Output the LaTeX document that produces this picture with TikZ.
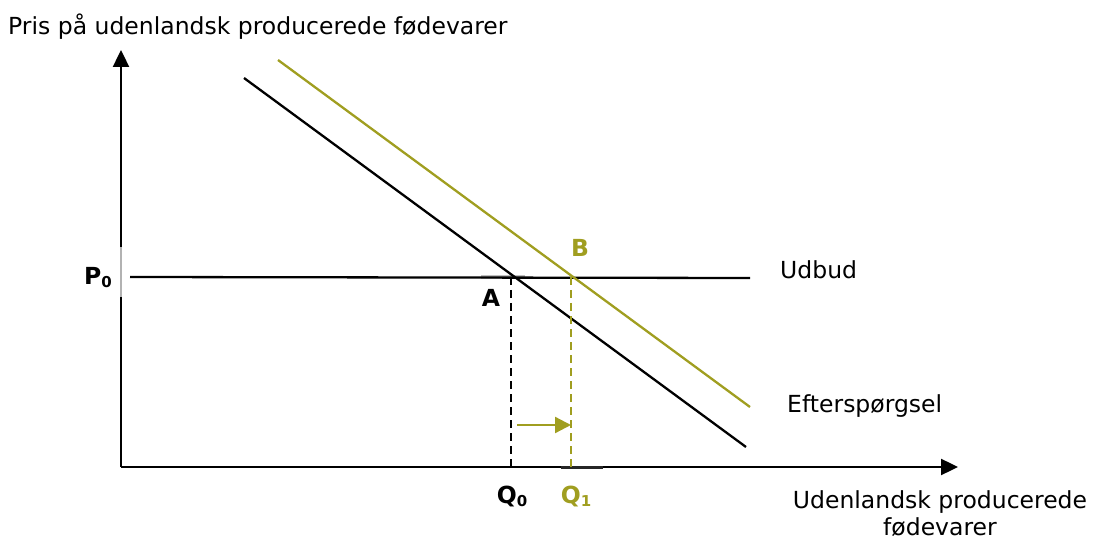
\documentclass[tikz,border=0pt]{standalone}
\usepackage{fontspec}
\setmainfont{DejaVu Sans}
\usetikzlibrary{arrows.meta}
\definecolor{oliv}{RGB}{160,158,32}
\newcommand{\subn}[1]{{\fontsize{15}{15}\selectfont\raisebox{-3pt}{#1}}}
\begin{document}
\begin{tikzpicture}[x=1pt,y=-1pt,
  axis/.style={line width=2.4pt,-{Triangle[length=17pt,width=16pt]}},
  curve/.style={line width=2.3pt},
  lbl/.style={font=\fontsize{23.5}{28}\selectfont,inner sep=0pt},
  blbl/.style={font=\fontsize{23.5}{28}\selectfont\bfseries,inner sep=0pt}]
\useasboundingbox (0,0) rectangle (1093,540);
% axes
\coordinate (O) at (121,467);
\coordinate (ytip) at (121,50);
\coordinate (xtip) at (958,467);
\draw[axis] (O) -- (ytip);
\draw[axis] (O) -- (xtip);
\coordinate (t1) at (121,247);
\coordinate (t2) at (121,297);
\draw[gray!60,line width=2.6pt] (t1) -- (t2);
\coordinate (u1) at (561,467);
\coordinate (u2) at (603,467);
\draw[black!85,line width=3pt] (u1) -- (u2);
% supply
\coordinate (s1) at (130,277);
\coordinate (s2) at (750,278);
\coordinate (h1) at (481,277);
\coordinate (h2) at (525,277);
\draw[gray!50,line width=3.4pt] (h1) -- (h2);
\draw[curve] (s1) -- (s2);
% demand curves
\coordinate (d1) at (244,78);
\coordinate (d2) at (746,447);
\draw[curve] (d1) -- (d2);
\coordinate (e1) at (278,60);
\coordinate (e2) at (750,407);
\draw[curve,oliv] (e1) -- (e2);
% intersection points
\coordinate (A) at (511,277);
\coordinate (B) at (571,277);
\coordinate (Ab) at (511,467);
\coordinate (Bb) at (571,467);
\draw[line width=2pt,dash pattern=on 8pt off 5pt] (A) -- (Ab);
\draw[oliv,line width=2pt,dash pattern=on 8pt off 5pt] (B) -- (Bb);
% shift arrow
\coordinate (a1) at (517,425);
\coordinate (a2) at (571,425);
\draw[oliv,line width=2.3pt,-{Triangle[length=16pt,width=16pt]}] (a1) -- (a2);
% labels
\node[lbl,anchor=west] (ylab) at (8,27) {Pris på udenlandsk producerede fødevarer};
\node[blbl,anchor=east] (P0) at (112,278) {P\subn{0}};
\node[blbl] (Alab) at (491,298) {A};
\node[blbl,oliv] (Blab) at (580,248) {B};
\node[blbl] (Q0) at (512,496) {Q\subn{0}};
\node[blbl,oliv] (Q1) at (576,496) {Q\subn{1}};
\node[lbl,anchor=west] (udbud) at (780,270) {Udbud};
\node[lbl,anchor=west] (eft) at (787,406) {Efterspørgsel};
\node[lbl,align=center,font=\fontsize{23.5}{27}\selectfont] (xlab) at (940,514) {Udenlandsk producerede\\fødevarer};
\end{tikzpicture}
\end{document}
